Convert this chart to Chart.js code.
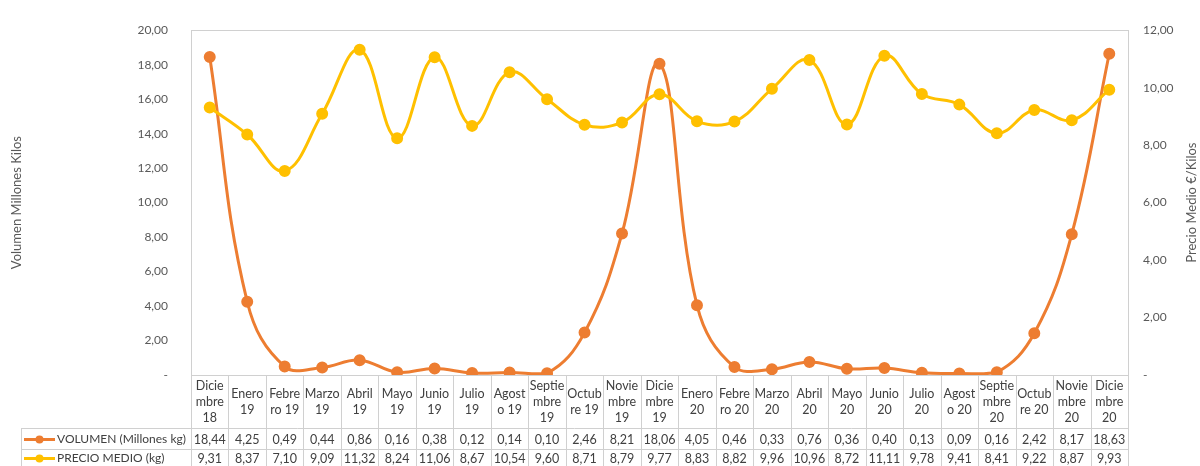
<!DOCTYPE html>
<html>
<head>
<meta charset="utf-8">
<script src="https://cdn.jsdelivr.net/npm/chart.js@4.4.1/dist/chart.umd.min.js"></script>
<style>
    body { margin: 0; background: #fff; }
    #wrap { width: 1200px; height: 466px; position: relative; }
</style>
</head>
<body>
<div id="wrap"><canvas id="volChart"></canvas></div>
<script>
const categories = [
    ["Dicie", "mbre", "18"], ["Enero", "19"], ["Febre", "ro 19"], ["Marzo", "19"], ["Abril", "19"],
    ["Mayo", "19"], ["Junio", "19"], ["Julio", "19"], ["Agost", "o 19"], ["Septie", "mbre", "19"],
    ["Octub", "re 19"], ["Novie", "mbre", "19"], ["Dicie", "mbre", "19"], ["Enero", "20"], ["Febre", "ro 20"],
    ["Marzo", "20"], ["Abril", "20"], ["Mayo", "20"], ["Junio", "20"], ["Julio", "20"],
    ["Agost", "o 20"], ["Septie", "mbre", "20"], ["Octub", "re 20"], ["Novie", "mbre", "20"], ["Dicie", "mbre", "20"]
];
const volumen = [18.44, 4.25, 0.49, 0.44, 0.86, 0.16, 0.38, 0.12, 0.14, 0.10, 2.46, 8.21, 18.06,
    4.05, 0.46, 0.33, 0.76, 0.36, 0.40, 0.13, 0.09, 0.16, 2.42, 8.17, 18.63];
const precio = [9.31, 8.37, 7.10, 9.09, 11.32, 8.24, 11.06, 8.67, 10.54, 9.60, 8.71, 8.79, 9.77,
    8.83, 8.82, 9.96, 10.96, 8.72, 11.11, 9.78, 9.41, 8.41, 9.22, 8.87, 9.93];
const seriesNames = ["VOLUMEN (Millones kg)", "PRECIO MEDIO (kg)"];
const rightTitle = "Precio Medio €/Kilos";

const ORANGE = "#ED7D31";
const YELLOW = "#FFC000";
const GRID = "#D0D0D0";
const TEXT = "#595959";
const FONT = "Lato, 'Open Sans', sans-serif";

function fmt(v) {
    if (v === 0) return "-";
    return v.toFixed(2).replace(".", ",");
}

// draws the plot frame, the right title (bottom-to-top) and the data table
const tablePlugin = {
    id: "dataTable",
    afterDraw(chart) {
        const c = chart.ctx;
        const area = chart.chartArea;
        const x = chart.scales.x;
        const half = (x.getPixelForValue(1) - x.getPixelForValue(0)) / 2;
        const rowTop = area.bottom;
        const row1 = 428, row2 = 449, rowEnd = 470;
        const legLeft = 21;

        c.save();
        c.strokeStyle = GRID;
        c.lineWidth = 1;
        c.strokeRect(Math.round(area.left) + 0.5, Math.round(area.top) + 0.5,
            Math.round(area.right - area.left), Math.round(area.bottom - area.top));

        // column separators
        c.beginPath();
        for (let i = 0; i <= categories.length; i++) {
            const px = Math.round(x.getPixelForValue(i) - half) + 0.5;
            c.moveTo(px, rowTop);
            c.lineTo(px, rowEnd);
        }
        c.moveTo(legLeft + 0.5, row1);
        c.lineTo(legLeft + 0.5, rowEnd);
        c.moveTo(legLeft, row1 + 0.5);
        c.lineTo(area.right, row1 + 0.5);
        c.moveTo(legLeft, row2 + 0.5);
        c.lineTo(area.right, row2 + 0.5);
        c.stroke();

        c.fillStyle = "#404040";
        c.font = "12.5px " + FONT;
        c.textAlign = "center";
        c.textBaseline = "middle";
        const catMid = (rowTop + row1) / 2;
        categories.forEach((lines, i) => {
            const cx = x.getPixelForValue(i);
            lines.forEach((ln, j) => {
                c.fillText(ln, cx, catMid + (j - (lines.length - 1) / 2) * 16);
            });
            c.fillText(fmt(volumen[i]), cx, (row1 + row2) / 2 + 1);
            c.fillText(fmt(precio[i]), cx, (row2 + rowEnd) / 2 - 1);
        });

        // legend keys inside the table
        c.font = "12px " + FONT;
        [[ORANGE, (row1 + row2) / 2 + 1], [YELLOW, (row2 + rowEnd) / 2 - 1]].forEach(([col, cy], k) => {
            c.strokeStyle = col;
            c.lineWidth = 3;
            c.beginPath();
            c.moveTo(24, cy);
            c.lineTo(55, cy);
            c.stroke();
            c.fillStyle = col;
            c.beginPath();
            c.arc(39.5, cy, 4, 0, Math.PI * 2);
            c.fill();
            c.fillStyle = "#404040";
            c.textAlign = "left";
            c.fillText(seriesNames[k], 57, cy);
        });

        // right axis title, reading upwards like the left one
        c.translate(1192, (area.top + area.bottom) / 2);
        c.rotate(-Math.PI / 2);
        c.fillStyle = TEXT;
        c.font = "13px " + FONT;
        c.textAlign = "center";
        c.fillText(rightTitle, 0, 0);
        c.restore();
    }
};

const ctx = document.getElementById("volChart");

new Chart(ctx, {
    type: "line",
    data: {
        labels: categories,
        datasets: [
            {
                label: seriesNames[0],
                data: volumen,
                yAxisID: "y",
                borderColor: ORANGE,
                backgroundColor: ORANGE,
                borderWidth: 3,
                pointRadius: 4.5,
                tension: 0.4,
                fill: false,
                order: 2
            },
            {
                label: seriesNames[1],
                data: precio,
                yAxisID: "y1",
                borderColor: YELLOW,
                backgroundColor: YELLOW,
                borderWidth: 3,
                pointRadius: 4.5,
                tension: 0.4,
                fill: false,
                order: 1
            }
        ]
    },
    options: {
        responsive: true,
        maintainAspectRatio: false,
        animation: false,
        layout: {
            padding: { top: 21, bottom: 91, left: 0, right: 0 }
        },
        plugins: {
            legend: { display: false },
            tooltip: { enabled: false }
        },
        scales: {
            x: {
                display: false,
                offset: true
            },
            y: {
                position: "left",
                min: 0,
                max: 20,
                afterFit: (s) => { s.width = 191; },
                ticks: {
                    stepSize: 2,
                    padding: 23,
                    color: TEXT,
                    font: { family: FONT, size: 12 },
                    callback: (v) => fmt(v)
                },
                grid: { display: false, drawTicks: false },
                border: { display: false },
                title: {
                    display: true,
                    text: "Volumen Millones Kilos",
                    color: TEXT,
                    font: { family: FONT, size: 13 },
                    padding: { top: 9, bottom: 0 }
                }
            },
            y1: {
                position: "right",
                min: 0,
                max: 12,
                afterFit: (s) => { s.width = 72; },
                ticks: {
                    stepSize: 2,
                    padding: 15,
                    color: TEXT,
                    font: { family: FONT, size: 12 },
                    callback: (v) => fmt(v)
                },
                grid: { display: false, drawTicks: false },
                border: { display: false }
            }
        }
    },
    plugins: [tablePlugin]
});
</script>
</body>
</html>
